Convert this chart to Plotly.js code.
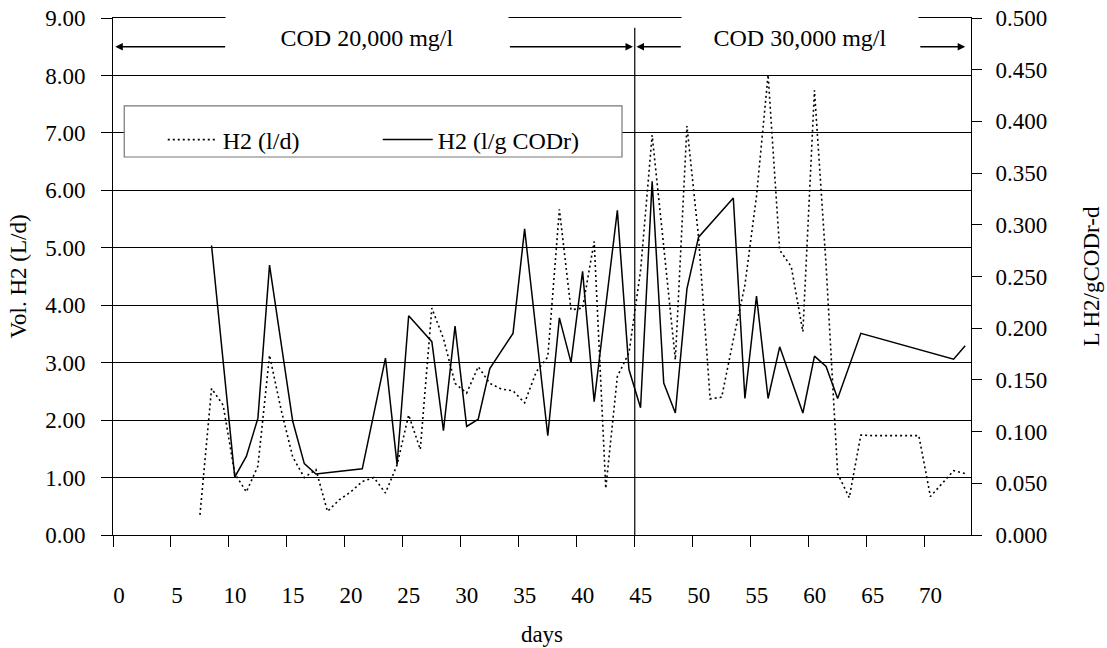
<!DOCTYPE html>
<html>
<head>
<meta charset="utf-8">
<script src="https://cdn.plot.ly/plotly-3.0.1.min.js"></script>
<style>html,body{margin:0;padding:0;background:#fff;}#chart{width:1107px;height:648px;}</style>
</head>
<body>
<div id="chart"></div>
<script>
// ---- data ----
const daysVol = [7,8,9,10,11,12,13,14,15,16,17,18,19,20,21,22,23,24,25,26,27,28,29,30,31,32,33,34,35,36,37,38,39,40,41,42,43,44,45,46,47,48,49,50,51,52,53,54,55,56,57,58,59,60,61,62,63,64,65,66,67,68,69,70,71,72,73];
const h2Vol = [0.35,2.55,2.26,1.07,0.75,1.2,3.13,2.18,1.36,1.0,1.14,0.41,0.61,0.75,0.93,1.0,0.73,1.22,2.09,1.49,3.95,3.42,2.64,2.47,2.93,2.64,2.54,2.51,2.30,2.84,3.10,5.67,3.92,3.95,5.11,0.81,2.76,3.17,4.6,6.96,5.02,3.05,7.12,5.19,2.37,2.40,3.4,4.35,5.9,8.01,4.96,4.67,3.54,7.74,4.7,1.07,0.65,1.74,1.73,1.73,1.73,1.73,1.73,0.67,0.90,1.12,1.07];
const daysYield = [8,10,11,12,13,15,16,17,21,23,24,25,27,28,29,30,31,32,34,35,37,38,39,40,41,43,44,45,46,47,48,49,50,53,54,55,56,57,59,60,61,62,64,72,73];
const h2Yield = [0.280,0.056,0.076,0.113,0.261,0.110,0.069,0.059,0.064,0.171,0.068,0.212,0.187,0.101,0.202,0.105,0.112,0.161,0.195,0.296,0.096,0.210,0.167,0.255,0.129,0.314,0.160,0.123,0.342,0.147,0.118,0.238,0.288,0.326,0.132,0.231,0.132,0.182,0.118,0.173,0.163,0.132,0.195,0.170,0.183];
const xTickLabels = ['0','5','10','15','20','25','30','35','40','45','50','55','60','65','70'];
const seriesNames = ['H2 (l/d)', 'H2 (l/g CODr)'];
const phaseLabels = ['COD 20,000 mg/l', 'COD 30,000 mg/l'];
const phaseChangeDay = 45;

const FONT = 'Liberation Serif, Times New Roman, serif';
const xTickVals = xTickLabels.map(t => Number(t) - 0.5);

const traces = [
  {x: daysVol, y: h2Vol, name: seriesNames[0], type: 'scatter', mode: 'lines',
   line: {color: '#000', width: 1.6, dash: '2px,3px'}, yaxis: 'y'},
  {x: daysYield, y: h2Yield, name: seriesNames[1], type: 'scatter', mode: 'lines',
   line: {color: '#000', width: 1.5}, yaxis: 'y2'}
];

const arrowBase = {xref: 'x', yref: 'y', axref: 'x', ayref: 'y', text: '', showarrow: true,
  arrowhead: 2, arrowsize: 1, arrowwidth: 1.5, arrowcolor: '#000', y: 8.5, ay: 8.5};

const layout = {
  width: 1107, height: 648,
  margin: {l: 113, r: 136, t: 18, b: 113},
  paper_bgcolor: '#fff', plot_bgcolor: '#fff',
  font: {family: FONT, size: 23, color: '#000'},
  showlegend: true,
  legend: {orientation: 'h', x: 0.058, xanchor: 'left', y: 0.764, yanchor: 'middle',
    bgcolor: 'rgba(0,0,0,0)', borderwidth: 0, font: {family: FONT, size: 24, color: '#000'},
    itemwidth: 50, entrywidth: 150, entrywidthmode: 'pixels', traceorder: 'normal'},
  xaxis: {range: [-0.5, 73.5], tickmode: 'array', tickvals: xTickVals, ticktext: xTickLabels,
    ticks: 'outside', ticklen: 11, tickwidth: 1, tickcolor: '#000',
    ticklabelshift: 6, ticklabelstandoff: 28,
    showline: true, mirror: true, linecolor: '#000', linewidth: 1, showgrid: false, zeroline: false,
    tickfont: {family: FONT, size: 23, color: '#000'},
    title: {text: 'days', font: {family: FONT, size: 23, color: '#000'}, standoff: 19}},
  yaxis: {range: [0, 9], dtick: 1, tick0: 0, tickformat: '.2f',
    ticks: 'outside', ticklen: 11, tickwidth: 1, tickcolor: '#000', ticklabelstandoff: 11,
    showline: true, linecolor: '#000', linewidth: 1,
    showgrid: true, gridcolor: '#000', gridwidth: 1, zeroline: false,
    tickfont: {family: FONT, size: 23, color: '#000'},
    title: {text: 'Vol. H2 (L/d)', font: {family: FONT, size: 23, color: '#000'}, standoff: 12}},
  yaxis2: {range: [0, 0.5], dtick: 0.05, tick0: 0, tickformat: '.3f', overlaying: 'y', side: 'right',
    ticks: 'outside', ticklen: 10, tickwidth: 1, tickcolor: '#000', ticklabelstandoff: 9,
    showline: true, linecolor: '#000', linewidth: 1, showgrid: false, zeroline: false,
    tickfont: {family: FONT, size: 23, color: '#000'},
    title: {text: 'L H2/gCODr-d', font: {family: FONT, size: 23, color: '#000'}, standoff: 36}},
  yaxis3: {range: [0, 0.5], dtick: 0.05, tick0: 0, overlaying: 'y', side: 'right', anchor: 'x',
    ticks: 'inside', ticklen: 10, tickwidth: 1, tickcolor: '#000', showticklabels: false,
    showline: false, showgrid: false, zeroline: false},
  shapes: [
    {type: 'line', xref: 'x', yref: 'y', x0: phaseChangeDay - 0.5, x1: phaseChangeDay - 0.5, y0: 0, y1: 8.83,
     line: {color: '#000', width: 1.2}, layer: 'above'},
    {type: 'rect', xref: 'x', yref: 'y', x0: 0.47, x1: 43.4, y0: 6.58, y1: 7.47,
     fillcolor: '#fff', line: {color: '#777', width: 1.2}, layer: 'between'}
  ],
  annotations: [
    {xref: 'x', yref: 'paper', x: 21.4, y: 0.961, xanchor: 'center', yanchor: 'middle', text: phaseLabels[0], showarrow: false,
     font: {family: FONT, size: 24, color: '#000'}, bgcolor: '#fff', width: 282, height: 44, borderpad: 0},
    {xref: 'x', yref: 'paper', x: 58.75, y: 0.961, xanchor: 'center', yanchor: 'middle', text: phaseLabels[1], showarrow: false,
     font: {family: FONT, size: 24, color: '#000'}, bgcolor: '#fff', width: 236, height: 44, borderpad: 0},
    Object.assign({}, arrowBase, {x: -0.3, ax: 9.3}),
    Object.assign({}, arrowBase, {x: 44.35, ax: 33.6}),
    Object.assign({}, arrowBase, {x: 44.65, ax: 48.6}),
    Object.assign({}, arrowBase, {x: 73.0, ax: 69.0})
  ]
};

Plotly.newPlot('chart', traces, layout, {displayModeBar: false, staticPlot: true});
</script>
</body>
</html>
